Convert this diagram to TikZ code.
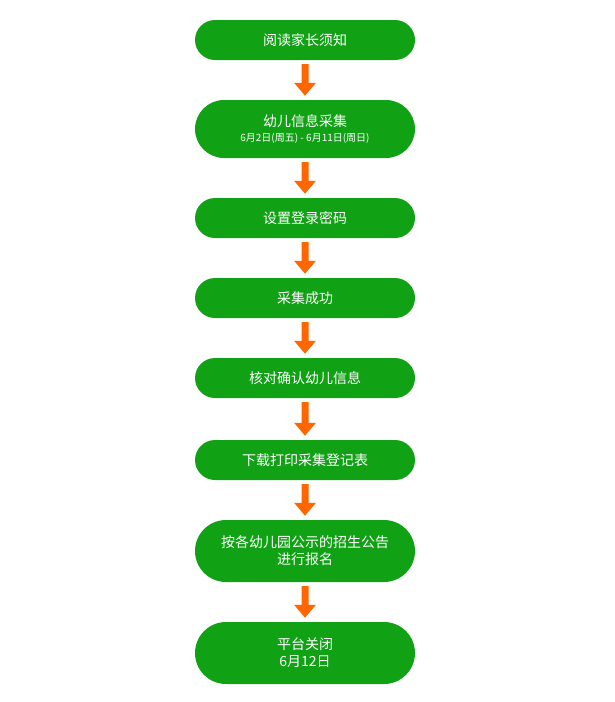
\documentclass[tikz,border=0pt]{standalone}
\usepackage{fontspec}
\setmainfont{Noto Sans CJK SC}
\usetikzlibrary{arrows.meta,shapes}
\definecolor{boxgreen}{RGB}{17,161,21}
\definecolor{arroworange}{RGB}{255,102,0}

\begin{document}
\begin{tikzpicture}[x=1pt,y=-1pt]
\tikzstyle{stepbox}=[rounded rectangle,fill=boxgreen,text=white,minimum width=220pt,inner sep=0pt,align=center,font=\fontsize{14}{17}\selectfont]
\tikzstyle{flow}=[arroworange,line width=7pt,-{Triangle[width=21pt,length=13pt]},shorten <=4pt,shorten >=4pt]
\useasboundingbox (0,0) rectangle (615,702);
\node [stepbox,minimum height=40pt] (read) at (305,40) {阅读家长须知};
\node [stepbox,minimum height=58pt] (collect) at (305,129) {幼儿信息采集\\[-2pt]{\fontsize{10}{12}\selectfont 6月2日(周五) - 6月11日(周日)}};
\node [stepbox,minimum height=40pt] (pwd) at (305,218) {设置登录密码};
\node [stepbox,minimum height=40pt] (done) at (305,298) {采集成功};
\node [stepbox,minimum height=40pt] (check) at (305,378) {核对确认幼儿信息};
\node [stepbox,minimum height=40pt] (print) at (305,460) {下载打印采集登记表};
\node [stepbox,minimum height=62pt] (apply) at (305,551) {按各幼儿园公示的招生公告\\进行报名};
\node [stepbox,minimum height=62pt] (close) at (305,653) {平台关闭\\6月12日};
\draw [flow] (read) -- (collect);
\draw [flow] (collect) -- (pwd);
\draw [flow] (pwd) -- (done);
\draw [flow] (done) -- (check);
\draw [flow] (check) -- (print);
\draw [flow] (print) -- (apply);
\draw [flow] (apply) -- (close);
\end{tikzpicture}
\end{document}
